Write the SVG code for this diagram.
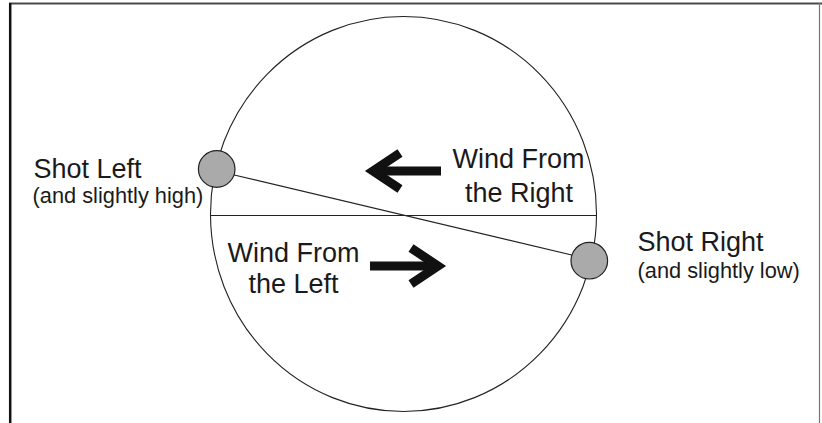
<svg xmlns="http://www.w3.org/2000/svg" xmlns:xlink="http://www.w3.org/1999/xlink" width="822" height="423" viewBox="0 0 822 423">
  <style>
    .frame-top { stroke: #4a4a4a; stroke-width: 2; }
    .frame-left { stroke: #111; stroke-width: 2.5; }
    .frame-right { stroke: #777; stroke-width: 1.2; }
    .thin { fill: none; stroke: #222; stroke-width: 1.1; }
    .shot { fill: #aaaaaa; stroke: #222; stroke-width: 1.2; }
    .arrow { fill: none; stroke: #111; stroke-width: 9; stroke-linejoin: miter; stroke-linecap: butt; }
    .big { font-family: "Liberation Sans", Arial, sans-serif; font-size: 27px; fill: #1a1a1a; }
    .small { font-family: "Liberation Sans", Arial, sans-serif; font-size: 21.8px; fill: #1a1a1a; }
  </style>
  <defs>
    <g id="windArrow">
      <line x1="9" y1="0" x2="77" y2="0" class="arrow"/>
      <polyline points="36,-18 9,0 36,18" class="arrow"/>
    </g>
  </defs>
  <rect width="822" height="423" fill="#ffffff"/>
  <g id="frame">
    <line x1="9" y1="3.5" x2="822" y2="3.5" class="frame-top"/>
    <line x1="10.2" y1="3" x2="10.2" y2="423" class="frame-left"/>
    <line x1="819.5" y1="3" x2="819.5" y2="423" class="frame-right"/>
  </g>
  <g id="target">
    <ellipse cx="403.5" cy="214" rx="193" ry="197.5" class="thin"/>
  </g>
  <g id="connectors">
    <line x1="210.6" y1="215.5" x2="596.4" y2="215.5" class="thin"/>
    <line x1="230" y1="174" x2="576" y2="256" class="thin"/>
  </g>
  <g id="shot-left">
    <circle cx="216.7" cy="169" r="18.3" class="shot"/>
    <text x="33.5" y="178" class="big">Shot Left</text>
    <text x="32.5" y="202.5" class="small">(and slightly high)</text>
  </g>
  <g id="shot-right">
    <circle cx="589.3" cy="260.7" r="18.3" class="shot"/>
    <text x="637.5" y="251" class="big">Shot Right</text>
    <text x="637.5" y="278" class="small">(and slightly low)</text>
  </g>
  <g id="wind-right">
    <use xlink:href="#windArrow" transform="translate(364,171)"/>
    <text x="518.5" y="168.3" class="big" text-anchor="middle">Wind From</text>
    <text x="519" y="201.7" class="big" text-anchor="middle">the Right</text>
  </g>
  <g id="wind-left">
    <use xlink:href="#windArrow" transform="translate(447,266) scale(-1,1)"/>
    <text x="293.5" y="261.7" class="big" text-anchor="middle">Wind From</text>
    <text x="293.5" y="293.3" class="big" text-anchor="middle">the Left</text>
  </g>
</svg>
